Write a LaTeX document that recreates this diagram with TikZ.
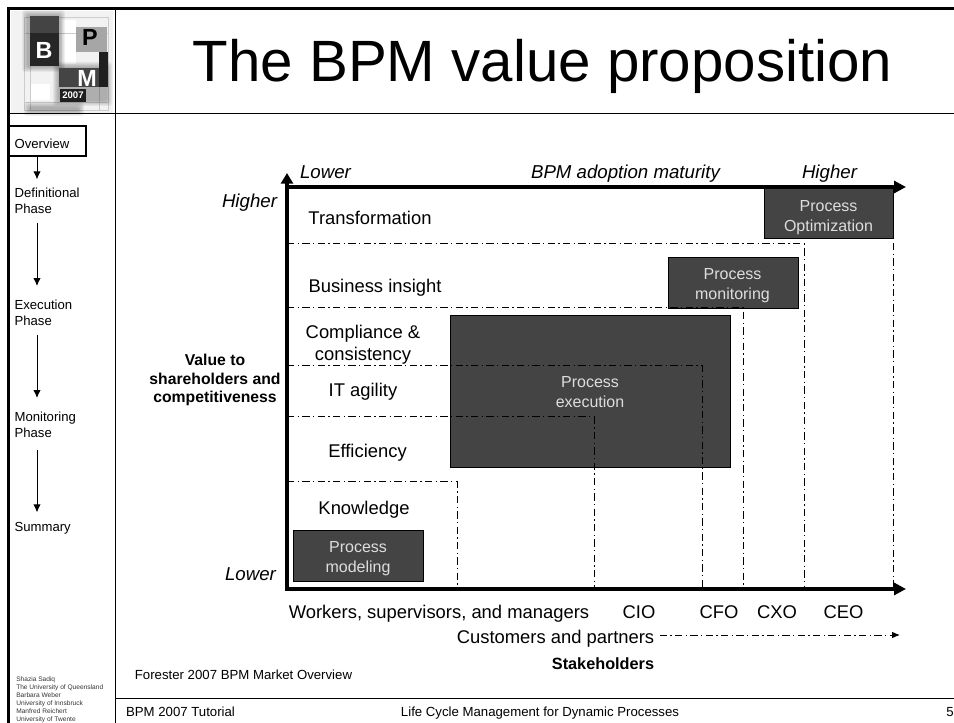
\documentclass[tikz,border=0pt]{standalone}
\usepackage{fontspec}
\setmainfont{Liberation Sans}
\usetikzlibrary{arrows.meta}

\definecolor{boxgrey}{HTML}{444444}
\definecolor{boxtext}{HTML}{DDDDDD}
\tikzset{
	label/.style={inner sep=0pt,font=\fontsize{13.8}{16.5}\selectfont,align=center},
	toplabel/.style={inner sep=0pt,font=\fontsize{14}{16}\selectfont\itshape},
	navlabel/.style={inner sep=1pt,anchor=west,align=left,font=\fontsize{9.85}{12}\selectfont},
	footlabel/.style={inner sep=0pt,font=\fontsize{9.9}{12}\selectfont},
	boldlabel/.style={inner sep=0pt,align=center,font=\fontsize{12.2}{14.4}\selectfont\bfseries},
	processbox/.style={draw=black,line width=.75pt,fill=boxgrey},
	processlabel/.style={inner sep=0pt,align=center,text=boxtext,font=\fontsize{12}{15}\selectfont},
	logoletter/.style={inner sep=0pt,font=\fontsize{17.5}{18}\selectfont\bfseries},
	axisline/.style={line width=3pt,-{Triangle[length=9pt,width=9pt]}},
	dashline/.style={dash pattern=on 5.5pt off 2.5pt on 1pt off 2.5pt,line width=.75pt},
	navarrow/.style={line width=.75pt,-{Latex[length=6pt,width=5.5pt]}}
}
% blurred square of the logo
\newcommand{\logosoft}[4]{
	\foreach \grow in {6,5,4,3,2,1}
		\fill [black,opacity=.05,rounded corners=2pt] (#1-\grow,#2-\grow) rectangle (#3+\grow,#4+\grow);
}

\begin{document}
\begin{tikzpicture}[x=.75pt,y=-.75pt]
	\useasboundingbox (0,0) rectangle (954,723);
	
	% logo
	\fill [black!5] (11,11) rectangle (113,113);
	\fill [white] (30,84) rectangle (50,100);
	\fill [white] (62,20) rectangle (76,64);
	\draw [black!20,line width=.4pt] (24,17) rectangle (108,110);
	\draw [black!20,line width=.4pt] (24,33) -- (108,33);
	\draw [black!20,line width=.4pt] (24,102) -- (108,102);
	\draw [black!20,line width=.4pt] (30,66) -- (30,110);
	\draw [black!20,line width=.4pt] (99,87) -- (99,110);
	\logosoft{28}{16}{59}{66}
	\logosoft{59}{68}{106}{100}
	\logosoft{30}{108}{78}{110}
	\fill [boxgrey] (30,16) rectangle (59,33);
	\fill [black!85] (30,33) rectangle (59,66);
	\fill [black!35] (76,27) rectangle (107,52);
	\fill [black!88] (99,52) rectangle (108,87);
	\fill [boxgrey] (59,68) rectangle (99,87);
	\fill [black!88] (60,89) rectangle (86,102);
	\node (logob) at (44,50) [logoletter,text=white] {B};
	\node (logop) at (90,37) [logoletter,text=black] {P};
	\node (logom) at (87,78) [logoletter,text=white] {M};
	\node (logoyear) at (73,95.5) [inner sep=0pt,text=white,font=\fontsize{7.2}{8}\selectfont\bfseries] {2007};
	
	% frame
	\draw [line width=2.2pt] (8.5,723) -- (8.5,8.5) -- (954,8.5);
	\draw [line width=.75pt] (115,9) -- (115,723);
	\draw [line width=.75pt] (8,114) -- (954,114);
	\draw [line width=.75pt] (115,698) -- (954,698);
	
	% title
	\node (title) at (542.5,66) [inner sep=0pt,font=\fontsize{43.7}{50}\selectfont] {The BPM value proposition};
	
	% left column
	\coordinate (navx) at (37,0);
	\draw [line width=2.2pt] (9,126) rectangle (86,156);
	\coordinate (overviewfoot) at (37,157);
	\node (overview) [navlabel] at (13,144) {Overview};
	\node (definitional) [navlabel] at (13,200.5) {Definitional\\Phase};
	\node (execution) [navlabel] at (13,312.5) {Execution\\Phase};
	\node (monitoring) [navlabel] at (13,424.5) {Monitoring\\Phase};
	\node (summary) [navlabel] at (13,528) {Summary};
	\draw [navarrow] (overviewfoot) -- ([yshift=5pt]definitional.north -| navx);
	\draw [navarrow] ([yshift=-6pt]definitional.south -| navx) -- ([yshift=9pt]execution.north -| navx);
	\draw [navarrow] ([yshift=-6pt]execution.south -| navx) -- ([yshift=9pt]monitoring.north -| navx);
	\draw [navarrow] ([yshift=-8pt]monitoring.south -| navx) -- ([yshift=6pt]summary.north -| navx);
	\node (credits) at (16,700) [anchor=west,inner sep=0pt,align=left,text=black!80,font=\fontsize{4.95}{6}\selectfont] {Shazia Sadiq\\The University of Queensland\\Barbara Weber\\University of Innsbruck\\Manfred Reichert\\University of Twente};
	
	% process boxes
	\draw [processbox] (764,189) rectangle (893,239);
	\draw [processbox] (668,258) rectangle (798,309);
	\draw [processbox] (450,316) rectangle (730,468);
	\draw [processbox] (293,531) rectangle (423,582);
	
	% regions
	\foreach \ytop/\xright in {244/804,308/743,366/702,417/594,482/457}
		\draw [dashline] (287,\ytop) -| (\xright,589);
	\draw [dashline] (893,243) -- (893,589);
	
	% axes
	\coordinate (origin) at (287,589);
	\coordinate (corner) at (287,187);
	\coordinate (uptip) at (287,173);
	\coordinate (toptip) at (906,187);
	\coordinate (bottomtip) at (906,589);
	\draw [line width=3pt,-{Triangle[length=8pt,width=9pt]}] ([yshift=-1.5pt]origin) -- (uptip);
	\draw [axisline] ([xshift=-1.5pt]corner) -- (toptip);
	\draw [axisline] ([xshift=-1.5pt]origin) -- (bottomtip);
	
	\node (lowerx) at (325.5,172) [toplabel] {Lower};
	\node (maturity) at (625.5,174) [toplabel] {BPM adoption maturity};
	\node (higherx) at (829.5,174) [toplabel] {Higher};
	\node (highery) at (249.5,203) [toplabel] {Higher};
	\node (lowery) at (250.5,574) [toplabel] {Lower};
	\node (value) at (215,380) [boldlabel,font=\fontsize{11.8}{14.2}\selectfont\bfseries] {Value to\\shareholders and\\competitiveness};
	
	\node (transformation) at (370,218) [label] {Transformation};
	\node (insight) at (375,288) [label] {Business insight};
	\node (compliance) at (363,345) [label] {Compliance \&\\consistency};
	\node (agility) at (363,392) [label] {IT agility};
	\node (efficiency) at (367.5,453) [label] {Efficiency};
	\node (knowledge) at (364,510) [label] {Knowledge};
	
	\node (optimization) at (828.5,218) [processlabel] {Process\\Optimization};
	\node (pmonitoring) at (732.5,286) [processlabel] {Process\\monitoring};
	\node (pexecution) at (590,392) [processlabel] {Process\\execution};
	\node (modeling) at (358,559) [processlabel] {Process\\modeling};
	
	\node (workers) at (439,614) [label] {Workers, supervisors, and managers};
	\node (cio) at (639,612) [label] {CIO};
	\node (cfo) at (719,612) [label] {CFO};
	\node (cxo) at (777,612) [label] {CXO};
	\node (ceo) at (843.5,612) [label] {CEO};
	\node (customers) at (555.5,639) [label] {Customers and partners};
	\coordinate (customertip) at (900,635);
	\draw [dashline,-{Latex[length=6pt,width=5pt]}] ([xshift=4pt]customers.east |- customertip) -- (customertip);
	\node (stakeholders) at (603,664) [boldlabel] {Stakeholders};
	
	% footer
	\node (source) at (243.5,675) [footlabel] {Forester 2007 BPM Market Overview};
	\node (tutorial) at (180.5,712) [footlabel] {BPM 2007 Tutorial};
	\node (course) at (540,713) [footlabel] {Life Cycle Management for Dynamic Processes};
	\node (page) at (950,712) [footlabel] {5};
\end{tikzpicture}
\end{document}
